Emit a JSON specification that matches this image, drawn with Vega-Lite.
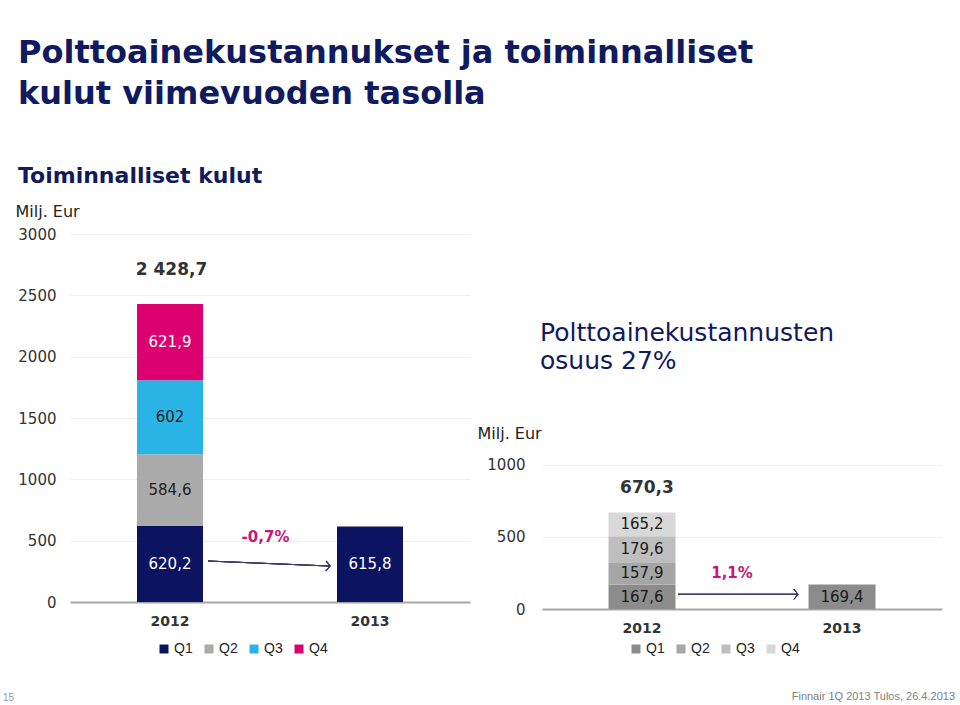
{
  "$schema": "https://vega.github.io/schema/vega-lite/v6.json",
  "background": "white",
  "padding": {"left": 3, "top": 37, "right": 5, "bottom": 2},
  "title": {
    "text": ["Polttoainekustannukset ja toiminnalliset", "kulut viimevuoden tasolla"],
    "subtitle": "Toiminnalliset kulut",
    "anchor": "start",
    "dx": 15,
    "font": "DejaVu Sans",
    "fontSize": 32,
    "fontWeight": "bold",
    "color": "#101A5E",
    "lineHeight": 41,
    "subtitleFont": "DejaVu Sans",
    "subtitleFontSize": 22,
    "subtitleFontWeight": "bold",
    "subtitleColor": "#101A5E",
    "subtitlePadding": 55,
    "offset": 15
  },
  "spacing": 72,
  "bounds": "flush",
  "resolve": {"scale": {"color": "independent"}, "legend": {"color": "independent"}},
  "config": {
    "view": {"stroke": null},
    "text": {"font": "DejaVu Sans"}
  },
  "hconcat": [
    {
      "width": 400,
      "height": 368,
      "data": {"values": [
        {"year": "2012", "q": "Q1", "qi": 1, "value": 620.2, "lbl": "620,2"},
        {"year": "2012", "q": "Q2", "qi": 2, "value": 584.6, "lbl": "584,6"},
        {"year": "2012", "q": "Q3", "qi": 3, "value": 602.0, "lbl": "602"},
        {"year": "2012", "q": "Q4", "qi": 4, "value": 621.9, "lbl": "621,9"},
        {"year": "2013", "q": "Q1", "qi": 1, "value": 615.8, "lbl": "615,8"}
      ]},
      "resolve": {"scale": {"x": "independent"}},
      "layer": [
        {
          "mark": {"type": "bar", "width": {"band": 0.33}},
          "encoding": {
            "x": {"field": "year", "type": "nominal", "scale": {"domain": ["2012", "2013"], "paddingInner": 0, "paddingOuter": 0},
              "axis": {"title": null, "labelAngle": 0, "ticks": false, "domain": true, "domainColor": "#A6A6A6", "domainWidth": 2, "grid": false,
                "labelFont": "DejaVu Sans", "labelFontSize": 14, "labelFontWeight": "bold", "labelColor": "#333333", "labelPadding": 12}},
            "y": {"field": "value", "type": "quantitative", "stack": "zero", "scale": {"domain": [0, 3000], "nice": false},
              "axis": {"values": [0, 500, 1000, 1500, 2000, 2500, 3000], "format": "d", "title": "Milj. Eur", "titleAngle": 0, "titleAlign": "left", "titleBaseline": "alphabetic",
                "titleX": -55, "titleY": -18, "titleFont": "DejaVu Sans", "titleFontSize": 16, "titleFontWeight": "normal", "titleColor": "#222222",
                "domain": false, "ticks": false, "grid": true, "gridColor": "#EEEEEE", "labelFont": "DejaVu Sans", "labelFontSize": 15, "labelColor": "#333333", "labelPadding": 14}},
            "color": {"field": "q", "type": "nominal",
              "scale": {"domain": ["Q1", "Q2", "Q3", "Q4"], "range": ["#0C1462", "#AAAAAA", "#2AB4E6", "#DD0070"]},
              "legend": {"title": null, "orient": "none", "direction": "horizontal", "legendX": 87, "legendY": 408, "symbolType": "square", "symbolSize": 81,
                "symbolStrokeWidth": 0, "symbolOpacity": 1, "labelFont": "Liberation Sans", "labelFontSize": 14, "labelColor": "#222222", "labelOffset": 3, "columnPadding": 9}},
            "order": {"field": "qi", "type": "quantitative"}
          }
        },
        {
          "transform": [
            {"stack": "value", "groupby": ["year"], "sort": [{"field": "qi"}], "as": ["v0", "v1"]},
            {"calculate": "(datum.v0 + datum.v1) / 2", "as": "mid"}
          ],
          "mark": {"type": "text", "fontSize": 15, "baseline": "middle"},
          "encoding": {
            "x": {"field": "year", "type": "nominal", "scale": {"domain": ["2012", "2013"], "paddingInner": 0, "paddingOuter": 0}, "axis": null},
            "y": {"field": "mid", "type": "quantitative"},
            "text": {"field": "lbl"},
            "color": {"condition": {"test": "datum.q == 'Q1' || datum.q == 'Q4'", "value": "white"}, "value": "#222222"}
          }
        },
        {
          "data": {"values": [{"t": "2 428,7"}]},
          "mark": {"type": "text", "fontSize": 17, "fontWeight": "bold", "color": "#333333", "baseline": "middle"},
          "encoding": {
            "x": {"datum": 0.5075, "type": "quantitative", "scale": {"domain": [0, 2], "nice": false, "zero": false}, "axis": null},
            "y": {"datum": 2706, "type": "quantitative"},
            "text": {"field": "t"}
          }
        },
        {
          "data": {"values": [{"t": "-0,7%"}]},
          "mark": {"type": "text", "fontSize": 15, "fontWeight": "bold", "color": "#CC1477", "baseline": "middle"},
          "encoding": {
            "x": {"datum": 0.9775, "type": "quantitative", "scale": {"domain": [0, 2], "nice": false, "zero": false}, "axis": null},
            "y": {"datum": 530, "type": "quantitative"},
            "text": {"field": "t"}
          }
        },
        {
          "mark": {"type": "rule", "color": "#3A3F6A", "strokeWidth": 1},
          "encoding": {
            "x": {"datum": 0.69, "type": "quantitative", "scale": {"domain": [0, 2], "nice": false, "zero": false}, "axis": null},
            "x2": {"datum": 1.3},
            "y": {"datum": 334, "type": "quantitative"},
            "y2": {"datum": 293}
          }
        },
        {
          "mark": {"type": "point", "shape": "M-0.8,-1L0,0L-0.8,1", "filled": false, "size": 100, "color": "#3A3F6A", "strokeWidth": 1, "opacity": 1, "angle": 1.4},
          "encoding": {
            "x": {"datum": 1.3, "type": "quantitative", "scale": {"domain": [0, 2], "nice": false, "zero": false}, "axis": null},
            "y": {"datum": 293, "type": "quantitative"}
          }
        },
        {
          "data": {"values": [{"t": "15"}]},
          "mark": {"type": "text", "font": "Liberation Sans", "fontSize": 10, "color": "#999999", "align": "left", "baseline": "middle"},
          "encoding": {
            "x": {"datum": -0.335, "type": "quantitative", "scale": {"domain": [0, 2], "nice": false, "zero": false}, "axis": null},
            "y": {"datum": -782, "type": "quantitative"},
            "text": {"field": "t"}
          }
        }
      ]
    },
    {
      "width": 400,
      "height": 375,
      "data": {"values": [
        {"year": "2012", "q": "Q1", "qi": 1, "value": 167.6, "lbl": "167,6"},
        {"year": "2012", "q": "Q2", "qi": 2, "value": 157.9, "lbl": "157,9"},
        {"year": "2012", "q": "Q3", "qi": 3, "value": 179.6, "lbl": "179,6"},
        {"year": "2012", "q": "Q4", "qi": 4, "value": 165.2, "lbl": "165,2"},
        {"year": "2013", "q": "Q1", "qi": 1, "value": 169.4, "lbl": "169,4"}
      ]},
      "resolve": {"scale": {"x": "independent"}},
      "layer": [
        {
          "mark": {"type": "bar", "width": {"band": 0.335}},
          "encoding": {
            "x": {"field": "year", "type": "nominal", "scale": {"domain": ["2012", "2013"], "paddingInner": 0, "paddingOuter": 0},
              "axis": {"title": null, "labelAngle": 0, "ticks": false, "domain": true, "domainColor": "#A6A6A6", "domainWidth": 2, "grid": false,
                "labelFont": "DejaVu Sans", "labelFontSize": 14, "labelFontWeight": "bold", "labelColor": "#333333", "labelPadding": 12}},
            "y": {"field": "value", "type": "quantitative", "stack": "zero", "scale": {"domain": [0, 2604], "nice": false},
              "axis": {"values": [0, 500, 1000], "format": "d", "title": "Milj. Eur", "titleAngle": 0, "titleAlign": "left", "titleBaseline": "alphabetic",
                "titleX": -65, "titleY": 204, "titleFont": "DejaVu Sans", "titleFontSize": 16, "titleFontWeight": "normal", "titleColor": "#222222",
                "domain": false, "ticks": false, "grid": true, "gridColor": "#EEEEEE", "labelFont": "DejaVu Sans", "labelFontSize": 15, "labelColor": "#333333", "labelPadding": 17}},
            "color": {"field": "q", "type": "nominal",
              "scale": {"domain": ["Q1", "Q2", "Q3", "Q4"], "range": ["#8C8C8C", "#A6A6A6", "#BEBEBE", "#D8D8D8"]},
              "legend": {"title": null, "orient": "none", "direction": "horizontal", "legendX": 87, "legendY": 408, "symbolType": "square", "symbolSize": 81,
                "symbolStrokeWidth": 0, "symbolOpacity": 1, "labelFont": "Liberation Sans", "labelFontSize": 14, "labelColor": "#222222", "labelOffset": 3, "columnPadding": 9}},
            "order": {"field": "qi", "type": "quantitative"}
          }
        },
        {
          "transform": [
            {"stack": "value", "groupby": ["year"], "sort": [{"field": "qi"}], "as": ["v0", "v1"]},
            {"calculate": "(datum.v0 + datum.v1) / 2", "as": "mid"}
          ],
          "mark": {"type": "text", "fontSize": 15, "baseline": "middle", "color": "#1A1A1A"},
          "encoding": {
            "x": {"field": "year", "type": "nominal", "scale": {"domain": ["2012", "2013"], "paddingInner": 0, "paddingOuter": 0}, "axis": null},
            "y": {"field": "mid", "type": "quantitative"},
            "text": {"field": "lbl"}
          }
        },
        {
          "data": {"values": [{"t": "670,3"}]},
          "mark": {"type": "text", "fontSize": 17, "fontWeight": "bold", "color": "#333333", "baseline": "middle"},
          "encoding": {
            "x": {"datum": 0.525, "type": "quantitative", "scale": {"domain": [0, 2], "nice": false, "zero": false}, "axis": null},
            "y": {"datum": 840, "type": "quantitative"},
            "text": {"field": "t"}
          }
        },
        {
          "data": {"values": [{"t": "1,1%"}]},
          "mark": {"type": "text", "fontSize": 15, "fontWeight": "bold", "color": "#CC1477", "baseline": "middle"},
          "encoding": {
            "x": {"datum": 0.95, "type": "quantitative", "scale": {"domain": [0, 2], "nice": false, "zero": false}, "axis": null},
            "y": {"datum": 248, "type": "quantitative"},
            "text": {"field": "t"}
          }
        },
        {
          "mark": {"type": "rule", "color": "#3A3F6A", "strokeWidth": 1},
          "encoding": {
            "x": {"datum": 0.68, "type": "quantitative", "scale": {"domain": [0, 2], "nice": false, "zero": false}, "axis": null},
            "x2": {"datum": 1.28},
            "y": {"datum": 102, "type": "quantitative"}
          }
        },
        {
          "mark": {"type": "point", "shape": "M-0.8,-1L0,0L-0.8,1", "filled": false, "size": 100, "color": "#3A3F6A", "strokeWidth": 1, "opacity": 1},
          "encoding": {
            "x": {"datum": 1.28, "type": "quantitative", "scale": {"domain": [0, 2], "nice": false, "zero": false}, "axis": null},
            "y": {"datum": 102, "type": "quantitative"}
          }
        },
        {
          "data": {"values": [{"t": "Polttoainekustannusten"}]},
          "mark": {"type": "text", "fontSize": 25, "color": "#101A5E", "align": "left", "baseline": "middle"},
          "encoding": {
            "x": {"datum": -0.01, "type": "quantitative", "scale": {"domain": [0, 2], "nice": false, "zero": false}, "axis": null},
            "y": {"datum": 1917, "type": "quantitative"},
            "text": {"field": "t"}
          }
        },
        {
          "data": {"values": [{"t": "osuus 27%"}]},
          "mark": {"type": "text", "fontSize": 25, "color": "#101A5E", "align": "left", "baseline": "middle"},
          "encoding": {
            "x": {"datum": -0.01, "type": "quantitative", "scale": {"domain": [0, 2], "nice": false, "zero": false}, "axis": null},
            "y": {"datum": 1722, "type": "quantitative"},
            "text": {"field": "t"}
          }
        },
        {
          "data": {"values": [{"t": "Finnair 1Q 2013 Tulos, 26.4.2013"}]},
          "mark": {"type": "text", "font": "Liberation Sans", "fontSize": 11, "color": "#808080", "align": "right", "baseline": "middle"},
          "encoding": {
            "x": {"datum": 2.065, "type": "quantitative", "scale": {"domain": [0, 2], "nice": false, "zero": false}, "axis": null},
            "y": {"datum": -611, "type": "quantitative"},
            "text": {"field": "t"}
          }
        }
      ]
    }
  ]
}
